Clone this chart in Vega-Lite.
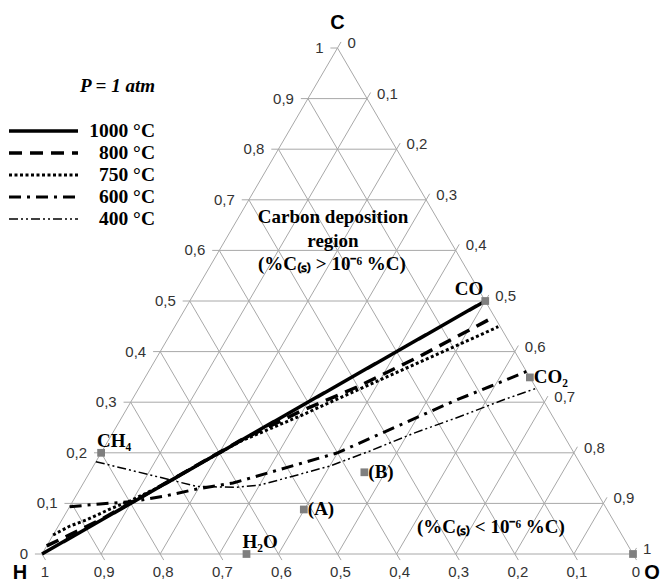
{
  "$schema": "https://vega.github.io/schema/vega-lite/v6.json",
  "width": 662,
  "height": 583,
  "autosize": "none",
  "padding": 0,
  "background": "white",
  "config": {
    "view": {"stroke": null},
    "legend": {
      "orient": "none",
      "legendX": 7,
      "legendY": 77,
      "padding": 0,
      "offset": 0,
      "columns": 1,
      "titleFont": "Liberation Serif",
      "titleFontSize": 19,
      "titleFontStyle": "italic",
      "titleFontWeight": "bold",
      "titleColor": "black",
      "titleAnchor": "end",
      "titlePadding": 24,
      "labelFont": "Liberation Serif",
      "labelFontSize": 19.5,
      "labelFontWeight": "bold",
      "labelColor": "black",
      "labelAlign": "right",
      "labelOffset": 75,
      "labelLimit": 0,
      "symbolType": "stroke",
      "symbolSize": 4761,
      "symbolStrokeColor": "black",
      "clipHeight": 22,
      "rowPadding": 0
    }
  },
  "datasets": {
    "grid": [
      {"c1": 0, "o1": -0.012, "c2": 0, "o2": 1},
      {"c1": 0.1, "o1": -0.012, "c2": 0.1, "o2": 0.9},
      {"c1": 0.2, "o1": -0.012, "c2": 0.2, "o2": 0.8},
      {"c1": 0.3, "o1": -0.012, "c2": 0.3, "o2": 0.7},
      {"c1": 0.4, "o1": -0.012, "c2": 0.4, "o2": 0.6},
      {"c1": 0.5, "o1": -0.012, "c2": 0.5, "o2": 0.5},
      {"c1": 0.6, "o1": -0.012, "c2": 0.6, "o2": 0.4},
      {"c1": 0.7, "o1": -0.012, "c2": 0.7, "o2": 0.3},
      {"c1": 0.8, "o1": -0.012, "c2": 0.8, "o2": 0.2},
      {"c1": 0.9, "o1": -0.012, "c2": 0.9, "o2": 0.1},
      {"c1": 1, "o1": -0.012, "c2": 1, "o2": 0},
      {"c1": 0, "o1": 0, "c2": 1.012, "o2": 0},
      {"c1": 0, "o1": 0.1, "c2": 0.912, "o2": 0.1},
      {"c1": 0, "o1": 0.2, "c2": 0.812, "o2": 0.2},
      {"c1": 0, "o1": 0.3, "c2": 0.712, "o2": 0.3},
      {"c1": 0, "o1": 0.4, "c2": 0.612, "o2": 0.4},
      {"c1": 0, "o1": 0.5, "c2": 0.512, "o2": 0.5},
      {"c1": 0, "o1": 0.6, "c2": 0.412, "o2": 0.6},
      {"c1": 0, "o1": 0.7, "c2": 0.312, "o2": 0.7},
      {"c1": 0, "o1": 0.8, "c2": 0.212, "o2": 0.8},
      {"c1": 0, "o1": 0.9, "c2": 0.112, "o2": 0.9},
      {"c1": 0, "o1": 1, "c2": 0.012, "o2": 1},
      {"c1": 1, "o1": 0, "c2": -0.012, "o2": 1.012},
      {"c1": 0.9, "o1": 0, "c2": -0.012, "o2": 0.912},
      {"c1": 0.8, "o1": 0, "c2": -0.012, "o2": 0.812},
      {"c1": 0.7, "o1": 0, "c2": -0.012, "o2": 0.712},
      {"c1": 0.6, "o1": 0, "c2": -0.012, "o2": 0.612},
      {"c1": 0.5, "o1": 0, "c2": -0.012, "o2": 0.512},
      {"c1": 0.4, "o1": 0, "c2": -0.012, "o2": 0.412},
      {"c1": 0.3, "o1": 0, "c2": -0.012, "o2": 0.312},
      {"c1": 0.2, "o1": 0, "c2": -0.012, "o2": 0.212},
      {"c1": 0.1, "o1": 0, "c2": -0.012, "o2": 0.112},
      {"c1": 0, "o1": 0, "c2": -0.012, "o2": 0.012}
    ],
    "curves": [
      {"series": "1000 °C", "i": 0, "C": 0, "O": 0},
      {"series": "1000 °C", "i": 1, "C": 0.5, "O": 0.5},
      {"series": "800 °C", "i": 0, "C": 0.016, "O": 0},
      {"series": "800 °C", "i": 1, "C": 0.067, "O": 0.0645},
      {"series": "800 °C", "i": 2, "C": 0.122, "O": 0.121},
      {"series": "800 °C", "i": 3, "C": 0.224, "O": 0.223},
      {"series": "800 °C", "i": 4, "C": 0.2816, "O": 0.2957},
      {"series": "800 °C", "i": 5, "C": 0.33, "O": 0.368},
      {"series": "800 °C", "i": 6, "C": 0.3909, "O": 0.4441},
      {"series": "800 °C", "i": 7, "C": 0.4664, "O": 0.5282},
      {"series": "750 °C", "i": 0, "C": 0.0375, "O": 0},
      {"series": "750 °C", "i": 1, "C": 0.0553, "O": 0.0197},
      {"series": "750 °C", "i": 2, "C": 0.0686, "O": 0.0435},
      {"series": "750 °C", "i": 3, "C": 0.0889, "O": 0.0706},
      {"series": "750 °C", "i": 4, "C": 0.1057, "O": 0.0977},
      {"series": "750 °C", "i": 5, "C": 0.1334, "O": 0.133},
      {"series": "750 °C", "i": 6, "C": 0.1785, "O": 0.1781},
      {"series": "750 °C", "i": 7, "C": 0.2223, "O": 0.2238},
      {"series": "750 °C", "i": 8, "C": 0.2727, "O": 0.3001},
      {"series": "750 °C", "i": 9, "C": 0.3176, "O": 0.3624},
      {"series": "750 °C", "i": 10, "C": 0.3794, "O": 0.4499},
      {"series": "750 °C", "i": 11, "C": 0.4492, "O": 0.5475},
      {"series": "600 °C", "i": 0, "C": 0.0935, "O": 0},
      {"series": "600 °C", "i": 1, "C": 0.0988, "O": 0.0487},
      {"series": "600 °C", "i": 2, "C": 0.1038, "O": 0.1021},
      {"series": "600 °C", "i": 3, "C": 0.1146, "O": 0.1508},
      {"series": "600 °C", "i": 4, "C": 0.1285, "O": 0.1981},
      {"series": "600 °C", "i": 5, "C": 0.1403, "O": 0.253},
      {"series": "600 °C", "i": 6, "C": 0.167, "O": 0.3192},
      {"series": "600 °C", "i": 7, "C": 0.2002, "O": 0.4007},
      {"series": "600 °C", "i": 8, "C": 0.2549, "O": 0.4783},
      {"series": "600 °C", "i": 9, "C": 0.3024, "O": 0.5459},
      {"series": "600 °C", "i": 10, "C": 0.331, "O": 0.5925},
      {"series": "600 °C", "i": 11, "C": 0.3607, "O": 0.6393},
      {"series": "400 °C", "i": 0, "C": 0.1824, "O": 0},
      {"series": "400 °C", "i": 1, "C": 0.166, "O": 0.0659},
      {"series": "400 °C", "i": 2, "C": 0.1462, "O": 0.1452},
      {"series": "400 °C", "i": 3, "C": 0.1334, "O": 0.1956},
      {"series": "400 °C", "i": 4, "C": 0.1318, "O": 0.264},
      {"series": "400 °C", "i": 5, "C": 0.1364, "O": 0.3007},
      {"series": "400 °C", "i": 6, "C": 0.1522, "O": 0.3435},
      {"series": "400 °C", "i": 7, "C": 0.1739, "O": 0.4003},
      {"series": "400 °C", "i": 8, "C": 0.2036, "O": 0.4532},
      {"series": "400 °C", "i": 9, "C": 0.2381, "O": 0.5086},
      {"series": "400 °C", "i": 10, "C": 0.2717, "O": 0.5714},
      {"series": "400 °C", "i": 11, "C": 0.3043, "O": 0.6278},
      {"series": "400 °C", "i": 12, "C": 0.3275, "O": 0.6725}
    ],
    "points": [
      {"name": "CH4", "label": "CH₄", "C": 0.2, "O": 0},
      {"name": "H2O", "label": "H₂O", "C": 0, "O": 0.346},
      {"name": "CO", "label": "CO", "C": 0.5, "O": 0.5},
      {"name": "CO2", "label": "CO₂", "C": 0.349, "O": 0.651},
      {"name": "O2", "label": "", "C": 0, "O": 1},
      {"name": "A", "label": "(A)", "C": 0.088, "O": 0.399},
      {"name": "B", "label": "(B)", "C": 0.1615, "O": 0.4647}
    ],
    "ticks": [
      {"v": 0, "lab": "0"},
      {"v": 0.1, "lab": "0,1"},
      {"v": 0.2, "lab": "0,2"},
      {"v": 0.3, "lab": "0,3"},
      {"v": 0.4, "lab": "0,4"},
      {"v": 0.5, "lab": "0,5"},
      {"v": 0.6, "lab": "0,6"},
      {"v": 0.7, "lab": "0,7"},
      {"v": 0.8, "lab": "0,8"},
      {"v": 0.9, "lab": "0,9"},
      {"v": 1, "lab": "1"}
    ],
    "notes": [
      {"kind": "region", "text": "Carbon deposition", "C": 0.666, "O": 0.1594},
      {"kind": "region", "text": "region", "C": 0.6186, "O": 0.1831},
      {"kind": "region", "text": "(%C₍ₛ₎ > 10⁻⁶ %C)", "C": 0.5731, "O": 0.2041},
      {"kind": "region", "text": "(%C₍ₛ₎ < 10⁻⁶ %C)", "C": 0.0534, "O": 0.733},
      {"kind": "corner", "text": "C", "C": 1.0494, "O": -0.0247},
      {"kind": "corner", "text": "H", "C": -0.03755, "O": -0.01846},
      {"kind": "corner", "text": "O", "C": -0.03755, "O": 1.0509}
    ]
  },
  "layer": [
    {
      "data": {"name": "grid"},
      "transform": [
        {"calculate": "datum.o1 + datum.c1 / 2", "as": "x1"},
        {"calculate": "datum.o2 + datum.c2 / 2", "as": "x2"}
      ],
      "mark": {"type": "rule", "color": "#a8a8a8", "strokeWidth": 1},
      "encoding": {
        "x": {"field": "x1", "type": "quantitative", "scale": {"domain": [-0.071066, 1.049069], "nice": false, "zero": false}, "axis": null},
        "y": {"field": "c1", "type": "quantitative", "scale": {"domain": [-0.057312, 1.094862], "nice": false, "zero": false}, "axis": null},
        "x2": {"field": "x2"},
        "y2": {"field": "c2"}
      }
    },
    {
      "data": {"name": "curves"},
      "transform": [{"calculate": "datum.O + datum.C / 2", "as": "x"}],
      "mark": {"type": "line", "color": "black"},
      "encoding": {
        "x": {"field": "x", "type": "quantitative", "scale": {"domain": [-0.071066, 1.049069], "nice": false, "zero": false}, "axis": null},
        "y": {"field": "C", "type": "quantitative", "scale": {"domain": [-0.057312, 1.094862], "nice": false, "zero": false}, "axis": null},
        "order": {"field": "i", "type": "quantitative"},
        "strokeDash": {
          "field": "series", "type": "ordinal",
          "scale": {"type": "ordinal", "domain": ["1000 °C", "800 °C", "750 °C", "600 °C", "400 °C"], "range": [[1, 0], [13, 8], [3, 2.5], [12, 6, 3, 6], [9, 3, 2, 3, 2, 3]]},
          "legend": {"title": "P = 1 atm"}
        },
        "strokeWidth": {
          "field": "series", "type": "ordinal",
          "scale": {"type": "ordinal", "domain": ["1000 °C", "800 °C", "750 °C", "600 °C", "400 °C"], "range": [3.5, 3.5, 3, 3, 1.5]},
          "legend": {"title": "P = 1 atm"}
        }
      }
    },
    {
      "data": {"name": "points"},
      "transform": [{"calculate": "datum.O + datum.C / 2", "as": "x"}],
      "mark": {"type": "square", "size": 60, "color": "#7f7f7f", "opacity": 1},
      "encoding": {
        "x": {"field": "x", "type": "quantitative", "scale": {"domain": [-0.071066, 1.049069], "nice": false, "zero": false}, "axis": null},
        "y": {"field": "C", "type": "quantitative", "scale": {"domain": [-0.057312, 1.094862], "nice": false, "zero": false}, "axis": null}
      }
    },
    {
      "data": {"name": "points"},
      "transform": [{"filter": "datum.name == 'CH4' || datum.name == 'H2O'"}, {"calculate": "datum.O + datum.C / 2", "as": "x"}],
      "mark": {"type": "text", "align": "left", "baseline": "middle", "dx": -4, "dy": -12, "font": "Liberation Serif", "fontWeight": "bold", "fontSize": 19, "color": "black"},
      "encoding": {
        "x": {"field": "x", "type": "quantitative", "scale": {"domain": [-0.071066, 1.049069], "nice": false, "zero": false}, "axis": null},
        "y": {"field": "C", "type": "quantitative", "scale": {"domain": [-0.057312, 1.094862], "nice": false, "zero": false}, "axis": null},
        "text": {"field": "label"}
      }
    },
    {
      "data": {"name": "points"},
      "transform": [{"filter": "datum.name == 'CO'"}, {"calculate": "datum.O + datum.C / 2", "as": "x"}],
      "mark": {"type": "text", "align": "right", "baseline": "middle", "dx": -2, "dy": -12, "font": "Liberation Serif", "fontWeight": "bold", "fontSize": 19, "color": "black"},
      "encoding": {
        "x": {"field": "x", "type": "quantitative", "scale": {"domain": [-0.071066, 1.049069], "nice": false, "zero": false}, "axis": null},
        "y": {"field": "C", "type": "quantitative", "scale": {"domain": [-0.057312, 1.094862], "nice": false, "zero": false}, "axis": null},
        "text": {"field": "label"}
      }
    },
    {
      "data": {"name": "points"},
      "transform": [{"filter": "datum.name == 'CO2' || datum.name == 'A' || datum.name == 'B'"}, {"calculate": "datum.O + datum.C / 2", "as": "x"}],
      "mark": {"type": "text", "align": "left", "baseline": "middle", "dx": 4, "dy": 0, "font": "Liberation Serif", "fontWeight": "bold", "fontSize": 19, "color": "black"},
      "encoding": {
        "x": {"field": "x", "type": "quantitative", "scale": {"domain": [-0.071066, 1.049069], "nice": false, "zero": false}, "axis": null},
        "y": {"field": "C", "type": "quantitative", "scale": {"domain": [-0.057312, 1.094862], "nice": false, "zero": false}, "axis": null},
        "text": {"field": "label"}
      }
    },
    {
      "data": {"name": "ticks"},
      "transform": [{"calculate": "datum.v / 2", "as": "x"}, {"calculate": "datum.v", "as": "y"}],
      "mark": {"type": "text", "align": "right", "baseline": "middle", "dx": -14, "font": "Liberation Sans", "fontSize": 15, "color": "#333333"},
      "encoding": {
        "x": {"field": "x", "type": "quantitative", "scale": {"domain": [-0.071066, 1.049069], "nice": false, "zero": false}, "axis": null},
        "y": {"field": "y", "type": "quantitative", "scale": {"domain": [-0.057312, 1.094862], "nice": false, "zero": false}, "axis": null},
        "text": {"field": "lab"}
      }
    },
    {
      "data": {"name": "ticks"},
      "transform": [{"calculate": "datum.v + (1 - datum.v) / 2", "as": "x"}, {"calculate": "1 - datum.v", "as": "y"}],
      "mark": {"type": "text", "align": "left", "baseline": "middle", "dx": 10, "dy": -5, "font": "Liberation Sans", "fontSize": 15, "color": "#333333"},
      "encoding": {
        "x": {"field": "x", "type": "quantitative", "scale": {"domain": [-0.071066, 1.049069], "nice": false, "zero": false}, "axis": null},
        "y": {"field": "y", "type": "quantitative", "scale": {"domain": [-0.057312, 1.094862], "nice": false, "zero": false}, "axis": null},
        "text": {"field": "lab"}
      }
    },
    {
      "data": {"name": "ticks"},
      "transform": [{"calculate": "1 - datum.v", "as": "x"}, {"calculate": "0", "as": "y"}],
      "mark": {"type": "text", "align": "center", "baseline": "middle", "dx": 3, "dy": 18, "font": "Liberation Sans", "fontSize": 15, "color": "#333333"},
      "encoding": {
        "x": {"field": "x", "type": "quantitative", "scale": {"domain": [-0.071066, 1.049069], "nice": false, "zero": false}, "axis": null},
        "y": {"field": "y", "type": "quantitative", "scale": {"domain": [-0.057312, 1.094862], "nice": false, "zero": false}, "axis": null},
        "text": {"field": "lab"}
      }
    },
    {
      "data": {"name": "notes"},
      "transform": [{"filter": "datum.kind == 'region'"}, {"calculate": "datum.O + datum.C / 2", "as": "x"}],
      "mark": {"type": "text", "align": "center", "baseline": "middle", "font": "Liberation Serif", "fontWeight": "bold", "fontSize": 19, "color": "black"},
      "encoding": {
        "x": {"field": "x", "type": "quantitative", "scale": {"domain": [-0.071066, 1.049069], "nice": false, "zero": false}, "axis": null},
        "y": {"field": "C", "type": "quantitative", "scale": {"domain": [-0.057312, 1.094862], "nice": false, "zero": false}, "axis": null},
        "text": {"field": "text"}
      }
    },
    {
      "data": {"name": "notes"},
      "transform": [{"filter": "datum.kind == 'corner'"}, {"calculate": "datum.O + datum.C / 2", "as": "x"}],
      "mark": {"type": "text", "align": "center", "baseline": "middle", "font": "Liberation Sans", "fontWeight": "bold", "fontSize": 20, "color": "black"},
      "encoding": {
        "x": {"field": "x", "type": "quantitative", "scale": {"domain": [-0.071066, 1.049069], "nice": false, "zero": false}, "axis": null},
        "y": {"field": "C", "type": "quantitative", "scale": {"domain": [-0.057312, 1.094862], "nice": false, "zero": false}, "axis": null},
        "text": {"field": "text"}
      }
    }
  ]
}
